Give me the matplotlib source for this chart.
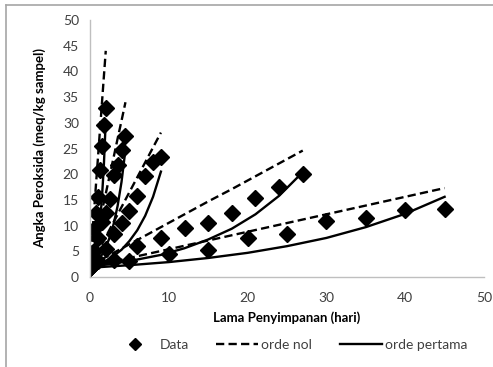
import numpy as np
import matplotlib.pyplot as plt
from matplotlib.lines import Line2D

# storage time (days) for each of the five series
hari_a = [0, 0.25, 0.5, 0.75, 1.0, 1.25, 1.5, 1.75, 2.0]
hari_b = [0, 0.5, 1.0, 1.5, 2.0, 2.5, 3.0, 3.5, 4.0, 4.5]
hari_c = [0, 1, 2, 3, 4, 5, 6, 7, 8, 9]
hari_d = [0, 3, 6, 9, 12, 15, 18, 21, 24, 27]
hari_e = [0, 5, 10, 15, 20, 25, 30, 35, 40, 45]

# measured peroxide values
data_a = [1.8, 4.7, 9.3, 12.5, 15.6, 20.8, 25.4, 29.5, 32.8]
data_b = [1.8, 5.0, 7.5, 10.7, 12.5, 15.2, 19.8, 21.8, 24.8, 27.5]
data_c = [1.8, 3.2, 5.5, 8.3, 10.5, 12.8, 15.8, 19.6, 22.3, 23.3]
data_d = [1.8, 3.3, 6.0, 7.6, 9.5, 10.5, 12.4, 15.4, 17.5, 20.0]
data_e = [1.8, 3.2, 4.5, 5.2, 7.6, 8.4, 10.9, 11.4, 13.0, 13.2]

# zero-order model
nol_a = [2.0, 7.3, 12.5, 17.8, 23.0, 28.3, 33.5, 38.8, 44.0]
nol_b = [2.0, 5.6, 9.1, 12.7, 16.2, 19.8, 23.3, 26.9, 30.4, 34.0]
nol_c = [2.0, 4.9, 7.8, 10.7, 13.6, 16.5, 19.4, 22.3, 25.2, 28.1]
nol_d = [2.2, 4.7, 7.2, 9.7, 12.2, 14.7, 17.1, 19.6, 22.1, 24.6]
nol_e = [2.0, 3.7, 5.4, 7.1, 8.8, 10.5, 12.2, 13.9, 15.6, 17.3]

# first-order model
pertama_a = [1.8, 2.6, 3.7, 5.2, 7.4, 10.5, 15.0, 21.4, 30.5]
pertama_b = [1.8, 2.4, 3.2, 4.3, 5.8, 7.7, 10.3, 13.8, 18.5, 24.8]
pertama_c = [1.8, 2.4, 3.1, 4.1, 5.3, 7.0, 9.1, 11.9, 15.6, 20.5]
pertama_d = [2.0, 2.6, 3.4, 4.3, 5.6, 7.3, 9.4, 12.2, 15.8, 20.4]
pertama_e = [1.8, 2.3, 2.9, 3.7, 4.7, 6.0, 7.6, 9.7, 12.3, 15.6]

hari = [hari_a, hari_b, hari_c, hari_d, hari_e]
data = [data_a, data_b, data_c, data_d, data_e]
nol = [nol_a, nol_b, nol_c, nol_d, nol_e]
pertama = [pertama_a, pertama_b, pertama_c, pertama_d, pertama_e]

plt.rcParams['font.family'] = ['Lato', 'DejaVu Sans']

fig = plt.figure(figsize=(4.93, 3.67), dpi=100)
ax = fig.add_axes([90/493, 1-277/367, 394/493, 257/367])

dash = (0, (3.5, 1.8))
for x, d, n, p in zip(hari, data, nol, pertama):
	ax.plot(x, n, color='black', lw=1.7, linestyle=dash)
	ax.plot(x, p, color='black', lw=1.7)
	ax.plot(x, d, 'kD', markersize=7.8, linestyle='none')

ax.set_xlim(0, 50)
ax.set_ylim(0, 50)
ax.set_xticks(range(0, 51, 10))
ax.set_yticks(range(0, 51, 5))
ax.tick_params(length=0, labelsize=10, colors='#404040')
ax.tick_params(axis='x', pad=11)
ax.tick_params(axis='y', pad=8)
for s in ['top', 'right']:
	ax.spines[s].set_visible(False)
for s in ['left', 'bottom']:
	ax.spines[s].set_color('#BFBFBF')
	ax.spines[s].set_linewidth(1.0)

ax.set_xlabel('Lama Penyimpanan (hari)', fontsize=9.5, fontweight='bold', labelpad=5)
ax.set_ylabel('Angka Peroksida (meq/kg sampel)', fontsize=9.5, fontweight='bold')
ax.yaxis.set_label_coords(-44/394, 0.5)

handles = [
	Line2D([], [], color='black', marker='D', markersize=6, linestyle='none'),
	Line2D([], [], color='black', lw=1.7, linestyle=dash),
	Line2D([], [], color='black', lw=1.7),
]
fig.legend(handles, ['Data', 'orde nol', 'orde pertama'], loc='center',
	bbox_to_anchor=(0.59, 0.06), ncol=3, frameon=False, fontsize=10,
	handlelength=3.0, columnspacing=2.0, handletextpad=0.25,
	labelcolor='#404040')

# chart area border (cropped in the original)
fig.add_artist(Line2D([6/493, 1], [1-4.5/367, 1-4.5/367], color='#A6A6A6', lw=1.2))
fig.add_artist(Line2D([6/493, 6/493], [0, 1-4.5/367], color='#A6A6A6', lw=1.2))

fig.savefig('out.png', dpi=100)
